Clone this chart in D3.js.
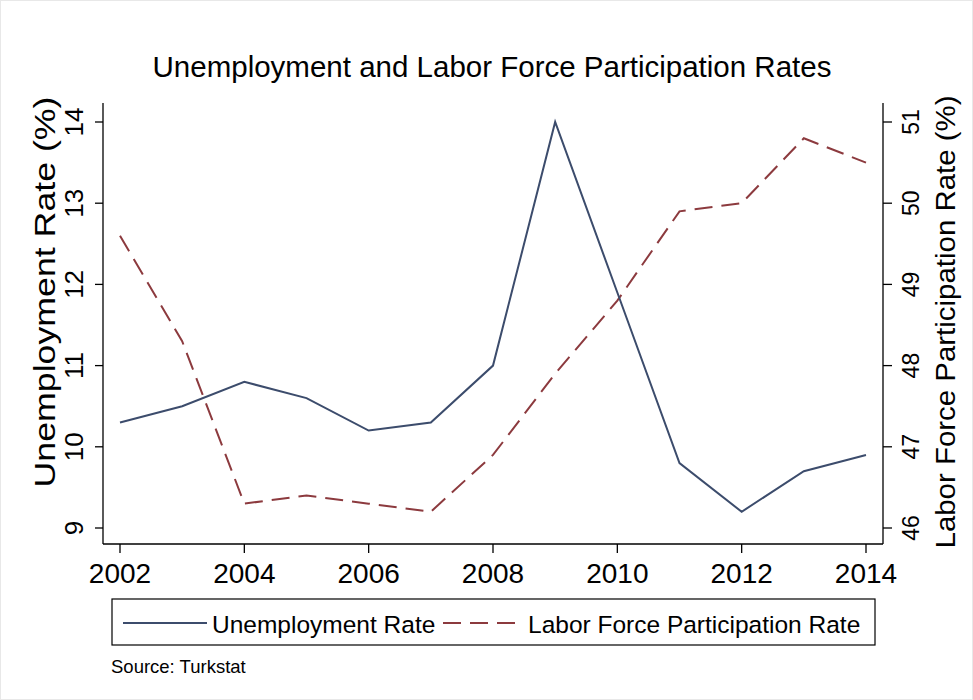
<!DOCTYPE html>
<html><head><meta charset="utf-8">
<script src="https://cdn.jsdelivr.net/npm/d3@7"></script>
<style>body{margin:0;background:#fff}text{font-family:"Liberation Sans",Arial,sans-serif}</style>
</head><body>
<script>
const years = [2002,2003,2004,2005,2006,2007,2008,2009,2010,2011,2012,2013,2014];
const unemployment = [10.3,10.5,10.8,10.6,10.2,10.3,11.0,14.0,11.9,9.8,9.2,9.7,9.9];
const participation = [49.6,48.3,46.3,46.4,46.3,46.2,46.9,47.9,48.8,49.9,50.0,50.8,50.5];
const leftTicks = [9,10,11,12,13,14];
const rightTicks = [46,47,48,49,50,51];
const xTicks = [2002,2004,2006,2008,2010,2012,2014];

const W = 973, H = 700;
const svg = d3.select('body').append('svg').attr('width', W).attr('height', H);
svg.append('rect').attr('x',0.5).attr('y',0.5).attr('width',W-1).attr('height',H-1)
  .attr('fill','#fff').attr('stroke','#e8e8e8');

const x = d3.scaleLinear().domain([2002,2014]).range([120,866]);
const yL = d3.scaleLinear().domain([9,14]).range([528,122]);
const yR = d3.scaleLinear().domain([46,51]).range([528,122]);
const plotTop = 103, plotBottom = 544, plotLeft = 103, plotRight = 883;

svg.append('text').attr('x',492).attr('y',77).attr('text-anchor','middle')
  .attr('font-size',29.5).text('Unemployment and Labor Force Participation Rates');

// axes
const ax = svg.append('g').attr('stroke','#000').attr('stroke-width',1.3);
ax.append('line').attr('x1',plotLeft).attr('x2',plotLeft).attr('y1',plotTop).attr('y2',plotBottom);
ax.append('line').attr('x1',plotRight).attr('x2',plotRight).attr('y1',plotTop).attr('y2',plotBottom);
ax.append('line').attr('x1',plotLeft).attr('x2',plotRight).attr('y1',plotBottom).attr('y2',plotBottom);

leftTicks.forEach(t => {
  ax.append('line').attr('x1',plotLeft-8).attr('x2',plotLeft).attr('y1',yL(t)).attr('y2',yL(t));
  svg.append('text').attr('transform',`translate(${plotLeft-20},${yL(t)}) rotate(-90)`)
    .attr('text-anchor','middle').attr('font-size',26).text(t);
});
rightTicks.forEach(t => {
  ax.append('line').attr('x1',plotRight).attr('x2',plotRight+9).attr('y1',yR(t)).attr('y2',yR(t));
  svg.append('text').attr('transform',`translate(${plotRight+36},${yR(t)}) rotate(-90)`)
    .attr('text-anchor','middle').attr('font-size',23).text(t);
});
xTicks.forEach(t => {
  ax.append('line').attr('x1',x(t)).attr('x2',x(t)).attr('y1',plotBottom).attr('y2',plotBottom+9);
  svg.append('text').attr('x',x(t)).attr('y',plotBottom+39).attr('text-anchor','middle')
    .attr('font-size',28).text(t);
});

svg.append('text').attr('transform','translate(55,292) rotate(-90)').attr('text-anchor','middle')
  .attr('font-size',29).attr('textLength',391).attr('lengthAdjust','spacingAndGlyphs')
  .text('Unemployment Rate (%)');
svg.append('text').attr('transform','translate(955,322) rotate(-90)').attr('text-anchor','middle')
  .attr('font-size',27).attr('textLength',453).attr('lengthAdjust','spacingAndGlyphs')
  .text('Labor Force Participation Rate (%)');

const blue = '#3c4c6c', red = '#8c3a3e';
svg.append('path').datum(years.map((y,i)=>[y,participation[i]]))
  .attr('d', d3.line().x(d=>x(d[0])).y(d=>yR(d[1])))
  .attr('fill','none').attr('stroke',red).attr('stroke-width',2).attr('stroke-dasharray','18,9');
svg.append('path').datum(years.map((y,i)=>[y,unemployment[i]]))
  .attr('d', d3.line().x(d=>x(d[0])).y(d=>yL(d[1])))
  .attr('fill','none').attr('stroke',blue).attr('stroke-width',2);

// legend
svg.append('rect').attr('x',112).attr('y',599).attr('width',763).attr('height',46)
  .attr('fill','#fff').attr('stroke','#000').attr('stroke-width',1.2);
svg.append('line').attr('x1',123).attr('x2',207).attr('y1',623).attr('y2',623)
  .attr('stroke',blue).attr('stroke-width',2);
svg.append('text').attr('x',212).attr('y',633).attr('font-size',24.5).text('Unemployment Rate');
svg.append('line').attr('x1',443).attr('x2',522).attr('y1',623).attr('y2',623)
  .attr('stroke',red).attr('stroke-width',2).attr('stroke-dasharray','18,9');
svg.append('text').attr('x',528).attr('y',633).attr('font-size',24.5).text('Labor Force Participation Rate');

svg.append('text').attr('x',111).attr('y',673).attr('font-size',18.5).text('Source: Turkstat');
</script>
</body></html>
